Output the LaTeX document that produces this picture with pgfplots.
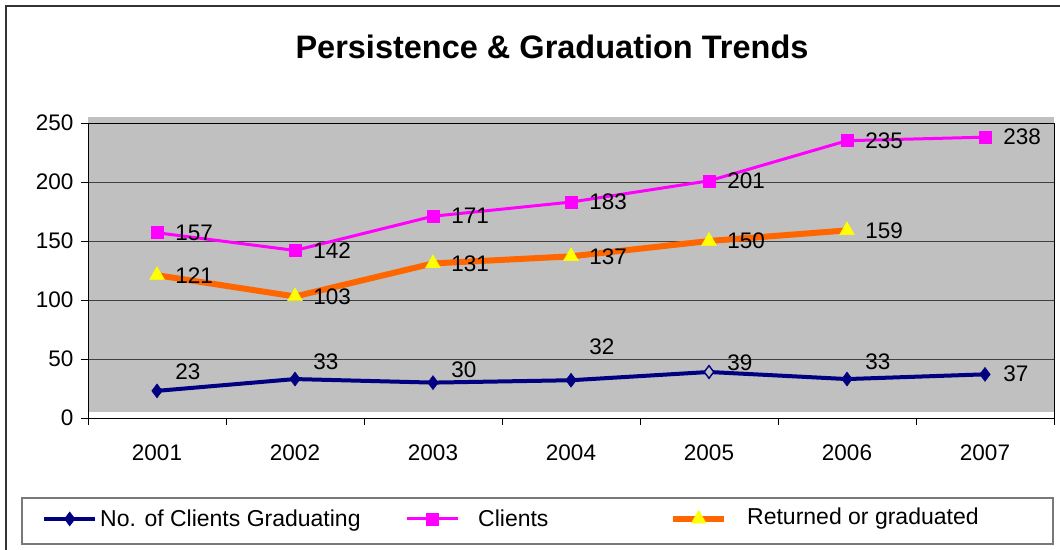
\documentclass[border=0pt]{standalone}
\usepackage{pgfplots}
\pgfplotsset{compat=1.18}
\usepackage{pgfplotstable}
\usepackage{fontspec}
\setmainfont{Liberation Sans}
\definecolor{cnavy}{HTML}{000080}
\definecolor{cpink}{HTML}{FF00FF}
\definecolor{corange}{HTML}{FF6600}
\definecolor{cyellow}{HTML}{FFFF00}
\definecolor{cbg}{HTML}{C0C0C0}
\definecolor{cgrid}{HTML}{404040}

\pgfplotstableread{
x y dy
0 23 19
1 33 17
2 30 13
3 32 33
4 39 9
5 33 17
6 37 1
}\graduating
\pgfplotstableread{
x y dy
0 157 0
1 142 0
2 171 0
3 183 0
4 201 0
5 235 0
6 238 0
}\clients
\pgfplotstableread{
x y dy
0 121 0
1 103 0
2 131 0
3 137 0
4 150 0
5 159 0
}\returned

\begin{document}
\begin{tikzpicture}[x=1pt,y=1pt]
\draw[cgrid!80!black,line width=1.5pt] (6,-560) -- (6,-6) -- (1070,-6);
\node[font=\fontsize{32.5}{38}\selectfont\bfseries] at (552,-47) {Persistence \& Graduation Trends};
\begin{axis}[
  set layers,
  at={(88pt,-418pt)}, anchor=south west,
  scale only axis, width=966pt, height=295pt,
  xmin=-0.5, xmax=6.5, ymin=0, ymax=250,
  clip=false,
  /pgf/number format/assume math mode=true,
  xtick={0,...,6},
  xticklabels={2001,2002,2003,2004,2005,2006,2007},
  minor xtick={-0.5,0.5,...,6.5},
  ytick={0,50,...,250},
  xtick pos=bottom, ytick pos=left,
  tick align=outside,
  major x tick style={draw=none},
  minor tick length=7pt,
  major tick length=7pt,
  tick style={black, line width=0.8pt},
  ymajorgrids,
  major grid style={cgrid, line width=0.9pt},
  axis line style={cgrid!60, line width=1pt},
  x axis line style={black},
  y axis line style={black},
  every tick label/.append style={font=\fontsize{22.5}{26}\selectfont},
  xticklabel style={yshift=-16pt},
  yticklabel style={xshift=-4pt},
  lab/.style={nodes near coords, point meta=y,
    visualization depends on={\thisrow{dy} \as \dy},
    every node near coord/.append style={font=\fontsize{22.5}{26}\selectfont, anchor=west, inner sep=0pt, xshift=18pt, yshift=\dy pt, text=black}},
  legend columns=3,
  legend style={at={(axis description cs:-0.0476,-0.342)}, anchor=west, draw=none, fill=none, inner sep=0pt,
    font=\fontsize{23}{27}\selectfont,
    /tikz/every even column/.style={column sep=0pt},
    /tikz/every odd column/.style={column sep=0pt},
    nodes={inner sep=0pt}},
  legend image code/.code={\draw[mark repeat=2,mark phase=2,#1] plot coordinates {(0pt,0pt) (25.5pt,0pt) (51pt,0pt)};},
]
\begin{pgfonlayer}{axis background}
\fill[cbg] ([yshift=6pt]rel axis cs:0,0) rectangle ([yshift=6pt]rel axis cs:1,1);
\end{pgfonlayer}
\addplot[lab, cnavy, line width=4pt, mark=diamond*, mark size=7pt, mark options={fill=cnavy, draw=cnavy, line width=0.5pt}] table[x=x,y=y] {\graduating};
\addlegendentry{\hspace{3pt}\makebox[305pt][l]{No. of Clients Graduating}}
\addplot[lab, cpink, line width=3pt, mark=square*, mark size=6pt, mark options={fill=cpink, draw=cpink, line width=0.5pt}] table[x=x,y=y] {\clients};
\addlegendentry{\hspace{19pt}\makebox[192pt][l]{Clients}}
\addplot[lab, corange, line width=6pt, mark=triangle*, mark size=8.5pt, mark options={fill=cyellow, draw=cyellow, line width=0.5pt}] table[x=x,y=y] {\returned};
\addlegendentry{\hspace{20pt}\raisebox{3pt}{Returned or graduated}}
\addplot[only marks, mark=diamond*, mark size=6pt, mark options={fill=cbg, draw=cnavy, line width=1pt}, forget plot] coordinates {(4,39)};
\end{axis}
\draw[cgrid!70, line width=1.2pt] (22,-498) rectangle (1053,-544);
\pgfresetboundingbox
\useasboundingbox (0,0) rectangle (1060,-549);
\end{tikzpicture}
\end{document}
